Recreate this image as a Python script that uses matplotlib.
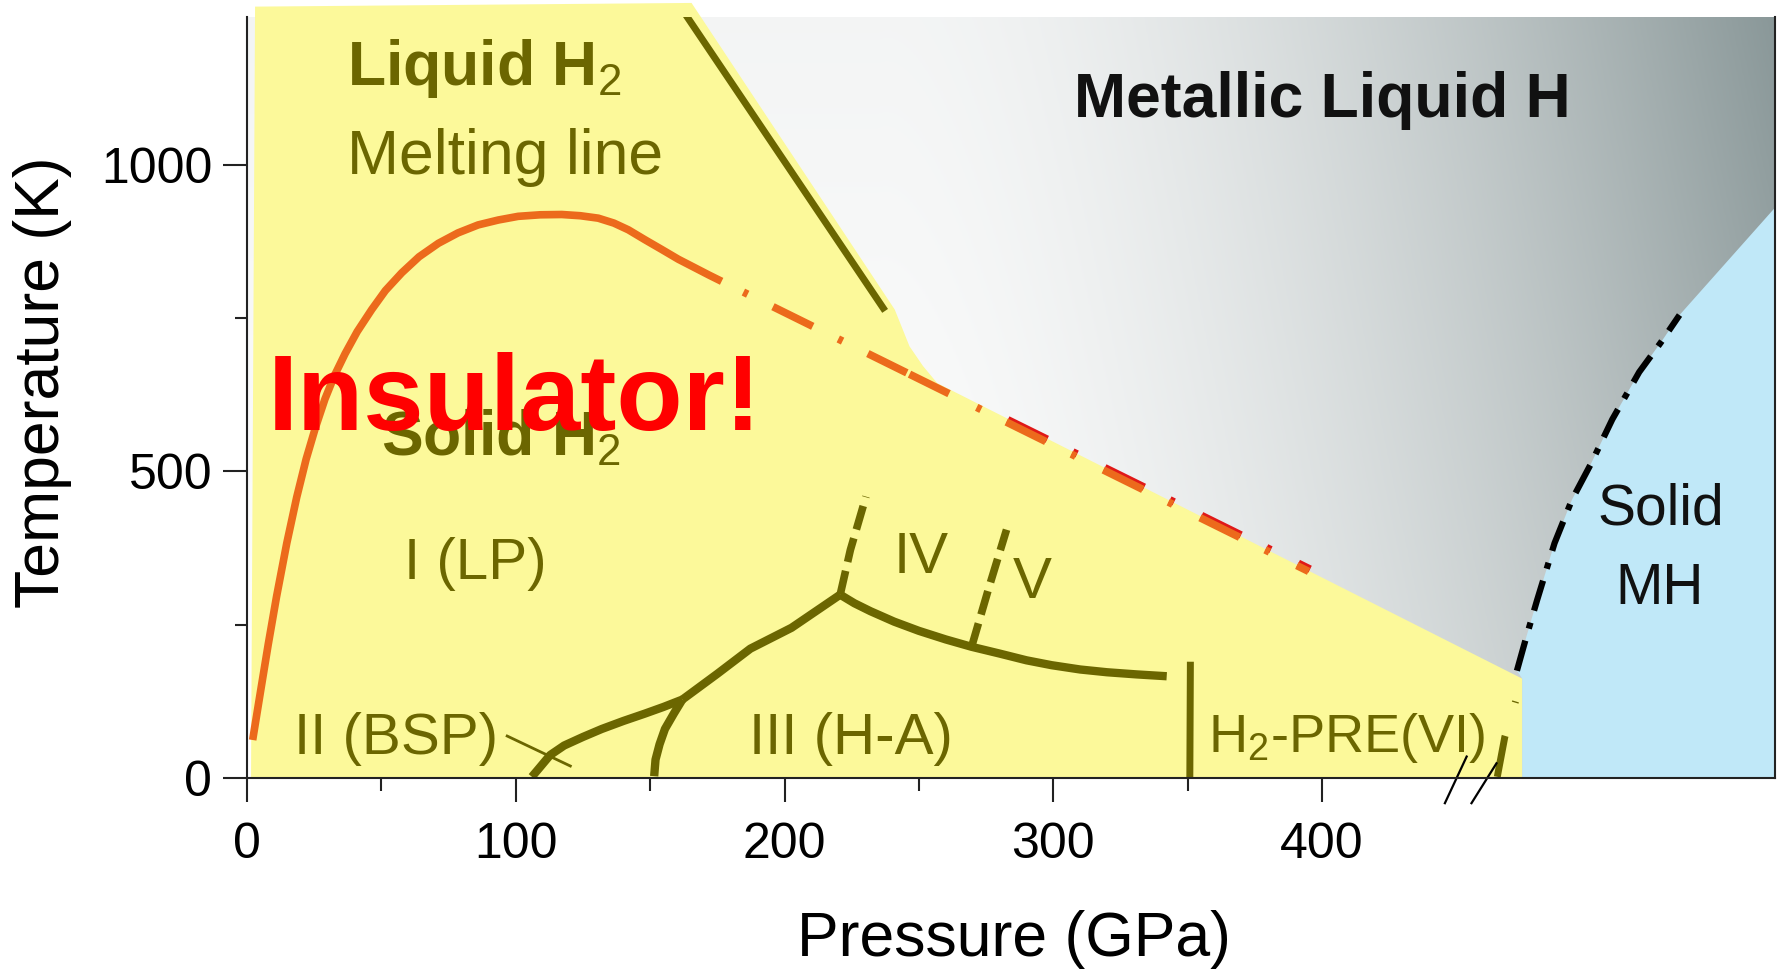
import numpy as np
import matplotlib
matplotlib.use("Agg")
from matplotlib import pyplot as plt
from matplotlib.patches import Rectangle
from matplotlib.transforms import Affine2D

plt.rcParams['font.family'] = ['Liberation Sans', 'DejaVu Sans']
plt.rcParams['mathtext.fontset'] = 'custom'
plt.rcParams['mathtext.rm'] = 'Liberation Sans'
plt.rcParams['mathtext.bf'] = 'Liberation Sans:bold'

# phase boundaries of hydrogen, pressure in GPa and temperature in K
melt_p = [2.1, 4.8, 7.9, 11, 14.8, 18.5, 22, 25.5, 29, 32.5, 36.5, 41, 46.4, 51.5, 57.6, 64,
          71.2, 78.5, 86, 93.5, 100.9, 109, 117.1, 124, 130.7, 136.5, 141.9, 148, 154.3, 160.5,
          166.7, 172, 176.6]
melt_t = [62, 135, 218, 296, 383, 458, 520, 572, 618, 656, 692, 728, 764, 795, 824, 850,
          872, 889, 902, 910, 916, 918.5, 919, 917, 913, 905, 894, 878, 862, 846,
          832, 820, 810]
melt_ext_p = [176.6, 395]
melt_ext_t = [810, 337]
# on/off lengths of the extrapolated melting line, measured in GPa along the line
melt_ext_gaps = [1.6, 9.4, 14.8, 9.5, 1.6, 9.4, 14.5, 1.0, 14.7, 10.3, 1.6, 9.4, 14.7, 9.5,
                 1.6, 10.3, 14.7, 9.5, 1.6, 10.2, 14.7, 9.5, 1.6, 10.2, 10.0, 8.1]

liq_p = [163.5, 236.7]
liq_t = [1243, 766.5]

mh_p = [472.5, 476, 480, 486.5, 493, 500, 508, 518, 526, 533]
mh_t = [175, 230, 290, 383, 454, 512, 585, 662, 710, 755]

b12_p = [106, 108.5, 112.8, 118, 125, 132, 140, 148, 155, 162]
b12_t = [2, 15, 37.5, 53, 67, 80, 93, 105, 116, 128]
b23_p = [151.5, 152, 153.5, 155.5, 158.8, 162]
b23_t = [3, 30, 55, 80, 105, 128]
b13_p = [162, 175, 187.3, 202.6, 220.7]
b13_t = [128, 170, 211, 245, 299]
b14_p = [220.7, 224.5, 230.3]
b14_t = [299, 372, 459]
b34_p = [220.7, 226, 232, 240.8, 250, 260, 269.6, 280, 290, 299.4, 310, 320, 331, 342.2]
b34_t = [299, 285, 272, 255, 240, 226, 214, 203, 192, 184, 177, 172.5, 169, 166]
b45_p = [269.6, 276, 282.6]
b45_t = [214, 310, 405]
b36_p = [350.8, 351]
b36_t = [2, 184]
b6m_p = [465.2, 468, 472]
b6m_t = [2, 67, 125]
lead_p = [96.8, 120.3]
lead_t = [68.5, 19.6]

# region outlines
h2_p = [1.5, 3, 165.4, 241, 246.5, 251.5, 256.8, 474.5, 474.5]
h2_t = [0, 1258, 1264, 764, 704, 672, 644, 162, 0]
mh_fill_p = [474.5, 474.5] + mh_p + [568.5, 568.5]
mh_fill_t = [0, 162] + mh_t + [930, 0]

# axis break marks
brk1_p, brk1_t = [445.7, 453.8], [-41, 35]
brk2_p, brk2_t = [455.6, 464.9], [-41, 24]

xmax, ymax = 568.5, 1241

olive = '#6b6600'
orange = '#ec6a1c'
yellow = '#fcf99a'
blue = '#c0e8f8'

fig = plt.figure(figsize=(17.86, 9.74), dpi=100)
ax = fig.add_axes([0.1383, 0.2012, 0.8555, 0.7813])
ax.set_xlim(0, xmax)
ax.set_ylim(0, ymax)

# grey shading of the metallic liquid, lighter towards the insulator side
gx = np.linspace(0, xmax, 500)
gy = np.linspace(0, ymax, 300)
X, Y = np.meshgrid(gx, gy)
U = np.clip((X - 235) / 333, 0, 1)
V = Y / ymax
d = U ** 1.6 * (0.72 + 0.28 * V) + 0.1 * V * (1 - U)
dark = np.array([138, 152, 153]) / 255
img = (1 - d)[..., None] * np.ones(3) + d[..., None] * dark
ax.imshow(img, extent=[0, xmax, 0, ymax], origin='lower', aspect='auto', zorder=0)

ax.fill(h2_p, h2_t, color=yellow, lw=0, zorder=1, clip_on=False)
ax.fill(mh_fill_p, mh_fill_t, color=blue, lw=0, zorder=1)

# melting line
ax.plot(melt_p, melt_t, color=orange, lw=5.5, solid_capstyle='butt', solid_joinstyle='round', zorder=3)

# dash-dot extrapolation; GPa along the line converted to points
fig_w = fig.get_figwidth() * 72 * 0.8555
fig_h = fig.get_figheight() * 72 * 0.7813
dp = np.diff(melt_ext_p)[0] * fig_w / xmax
dt = np.diff(melt_ext_t)[0] * fig_h / ymax
pt_per_gpa = np.hypot(dp, dt) / np.diff(melt_ext_p)[0]
lw_ext = 5.5
seq = [g * pt_per_gpa / lw_ext for g in melt_ext_gaps]
ext_style = (sum(seq) - seq[-1], seq)
red_ext, = ax.plot(melt_ext_p, melt_ext_t, color='#e01818', lw=lw_ext, linestyle=ext_style, zorder=3)
red_ext.set_transform(ax.transData + Affine2D().translate(1.5, 2.2))
red_ext.set_clip_path(Rectangle((278, 0), 200, 1000, transform=ax.transData))
ax.plot(melt_ext_p, melt_ext_t, color=orange, lw=lw_ext, linestyle=ext_style, zorder=3)

ax.plot(liq_p, liq_t, color=olive, lw=5, zorder=3)
ax.plot(mh_p, mh_t, color='black', lw=4.5, linestyle=(0, (5, 2, 1, 2)), zorder=3)

for p, t in [(b12_p, b12_t), (b23_p, b23_t), (b13_p, b13_t), (b34_p, b34_t)]:
    ax.plot(p, t, color=olive, lw=6, solid_capstyle='butt', solid_joinstyle='round', zorder=3)
ax.plot(b36_p, b36_t, color=olive, lw=5, zorder=3)
ax.plot(b14_p, b14_t, color=olive, lw=5.5, dashes=(3.2, 1.2), zorder=3)
ax.plot(b45_p, b45_t, color=olive, lw=5.5, dashes=(3.2, 1.2), zorder=3)
ax.plot(b6m_p, b6m_t, color=olive, lw=5, dashes=(6, 5, 1.2, 5), zorder=3)
ax.plot(lead_p, lead_t, color=olive, lw=2, zorder=3)

ax.plot(brk1_p, brk1_t, color='black', lw=1.6, clip_on=False, zorder=5)
ax.plot(brk2_p, brk2_t, color='black', lw=1.6, clip_on=False, zorder=5)

# region labels
kw = dict(color=olive, ha='left', va='baseline', zorder=4)
ax.text(37.3, 1130, r'Liquid H$_2$', fontsize=45, fontweight='bold', **kw)
ax.text(37.3, 985, 'Melting line', fontsize=45, **kw)
ax.text(50, 526, r'Solid H$_2$', fontsize=45, fontweight='bold', **kw)
ax.text(58.5, 325, 'I (LP)', fontsize=42, **kw)
ax.text(17.4, 40, 'II (BSP)', fontsize=42, **kw)
ax.text(186.9, 40, 'III (H-A)', fontsize=42, **kw)
ax.text(240.7, 335, 'IV', fontsize=42, **kw)
ax.text(285, 294, 'V', fontsize=42, **kw)
ax.text(357.5, 42, r'H$_2$-PRE(VI)', fontsize=39, **kw)
ax.text(307.6, 1078, 'Metallic Liquid H', fontsize=45, fontweight='bold',
        color='#111111', ha='left', va='baseline', zorder=4)
ax.text(526, 414, 'Solid', fontsize=41, color='#111111', ha='center', va='baseline', zorder=4)
ax.text(525.6, 284, 'MH', fontsize=41, color='#111111', ha='center', va='baseline', zorder=4)
ax.text(7.6, 567, 'Insulator!', fontsize=78, fontweight='bold', color='#ff0000',
        ha='left', va='baseline', zorder=6)

ax.set_xticks([0, 100, 200, 300, 400])
ax.set_xticks([50, 150, 250, 350], minor=True)
ax.set_yticks([0, 500, 1000])
ax.set_yticks([250, 750], minor=True)
ax.tick_params(axis='both', which='both', direction='out', width=1.5, color='#222222',
               labelsize=36, top=False, right=False)
ax.tick_params(axis='both', which='major', length=17)
ax.tick_params(axis='both', which='minor', length=9)
ax.tick_params(axis='x', which='major', pad=15)
ax.tick_params(axis='y', which='major', pad=8)
ax.spines['top'].set_visible(False)
for s in ['left', 'bottom', 'right']:
    ax.spines[s].set_linewidth(1.5)
    ax.spines[s].set_color('#222222')
    ax.spines[s].set_zorder(5)

fig.text(0.024, 0.608, 'Temperature (K)', rotation=90, fontsize=45, ha='center', va='center')
fig.text(0.5677, 0.035, 'Pressure (GPa)', fontsize=45, ha='center', va='center')

fig.savefig('out.png', dpi=100)
